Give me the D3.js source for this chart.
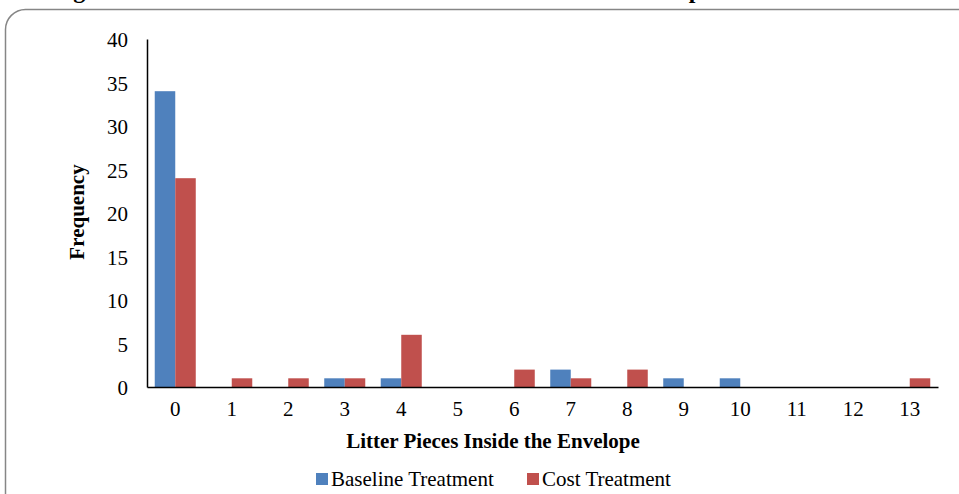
<!DOCTYPE html>
<html>
<head>
<meta charset="utf-8">
<script src="https://cdn.jsdelivr.net/npm/d3@7"></script>
<style>
  body { margin: 0; background: #fff; }
  text { font-family: "Liberation Serif", "Times New Roman", serif; fill: #000; }
</style>
</head>
<body>
<svg id="chart" width="959" height="494"></svg>
<script>
// data
const categories = ["0","1","2","3","4","5","6","7","8","9","10","11","12","13"]
const seriesNames = ["Baseline Treatment", "Cost Treatment"]
const baseline = [34, 0, 0, 1, 1, 0, 0, 2, 0, 1, 1, 0, 0, 0]
const cost     = [24, 1, 1, 1, 6, 0, 2, 1, 2, 0, 0, 0, 0, 1]
const yTicks = [0, 5, 10, 15, 20, 25, 30, 35, 40]
const colors = ["#4F81BD", "#C0504D"]

const svg = d3.select("#chart")
const W = 959, H = 494
const margin = { left: 147, right: 21, top: 39, bottom: 107 }
const plotW = W - margin.left - margin.right
const plotH = H - margin.top - margin.bottom
const fs = "21px"

// figure caption, mostly above the top edge as in the reference
svg.append("text")
  .attr("x", 52).attr("y", -2)
  .style("font-size", "24px").style("font-weight", "bold")
  .text("Figure 1: Distribution of Litter Pieces Inside the Waste Envelope Across Treatments")

// chart area frame with rounded corners
svg.append("rect")
  .attr("x", 5.5).attr("y", 9.5)
  .attr("width", 975).attr("height", 520)
  .attr("rx", 20).attr("ry", 20)
  .attr("fill", "none").attr("stroke", "#868686").attr("stroke-width", 1.5)

const g = svg.append("g").attr("transform", `translate(${margin.left},${margin.top})`)

const x0 = d3.scaleBand().domain(categories).range([0, plotW]).paddingInner(0.274).paddingOuter(0.137)
const x1 = d3.scaleBand().domain(seriesNames).range([0, x0.bandwidth()])
const y = d3.scaleLinear().domain([0, 40]).range([plotH, 0])

const rows = categories.map((c, i) => ({ cat: c, values: [baseline[i], cost[i]] }))

g.selectAll("g.grp")
  .data(rows)
  .join("g")
  .attr("class", "grp")
  .attr("transform", d => `translate(${x0(d.cat)},0)`)
  .selectAll("rect")
  .data(d => d.values.map((v, j) => ({ name: seriesNames[j], v, j })))
  .join("rect")
  .attr("x", d => x1(d.name))
  .attr("width", x1.bandwidth())
  .attr("y", d => y(d.v))
  .attr("height", d => plotH - y(d.v))
  .attr("fill", d => colors[d.j])

// y axis
const yAxis = g.append("g")
  .call(d3.axisLeft(y).tickValues(yTicks).tickSize(0).tickPadding(19))
yAxis.select(".domain").attr("stroke", "#000").attr("stroke-width", 1.5)
yAxis.selectAll("text").style("font-size", fs).attr("dy", "0.36em")

// x axis
const xAxis = g.append("g")
  .attr("transform", `translate(0,${plotH})`)
  .call(d3.axisBottom(x0).tickSize(0).tickPadding(14))
xAxis.select(".domain").attr("stroke", "#000").attr("stroke-width", 1.5)
xAxis.selectAll("text").style("font-size", fs)

// axis titles
svg.append("text")
  .attr("transform", "translate(84,212) rotate(-90)")
  .attr("text-anchor", "middle")
  .style("font-size", fs).style("font-weight", "bold")
  .text("Frequency")

svg.append("text")
  .attr("x", 493).attr("y", 448)
  .attr("text-anchor", "middle")
  .style("font-size", fs).style("font-weight", "bold")
  .text("Litter Pieces Inside the Envelope")

// legend
const legendX = [316, 527]
const legend = svg.append("g")
seriesNames.forEach((name, i) => {
  legend.append("rect")
    .attr("x", legendX[i]).attr("y", 473)
    .attr("width", 12).attr("height", 12)
    .attr("fill", colors[i])
  legend.append("text")
    .attr("x", legendX[i] + 15).attr("y", 486)
    .style("font-size", fs)
    .text(name)
})
</script>
</body>
</html>
